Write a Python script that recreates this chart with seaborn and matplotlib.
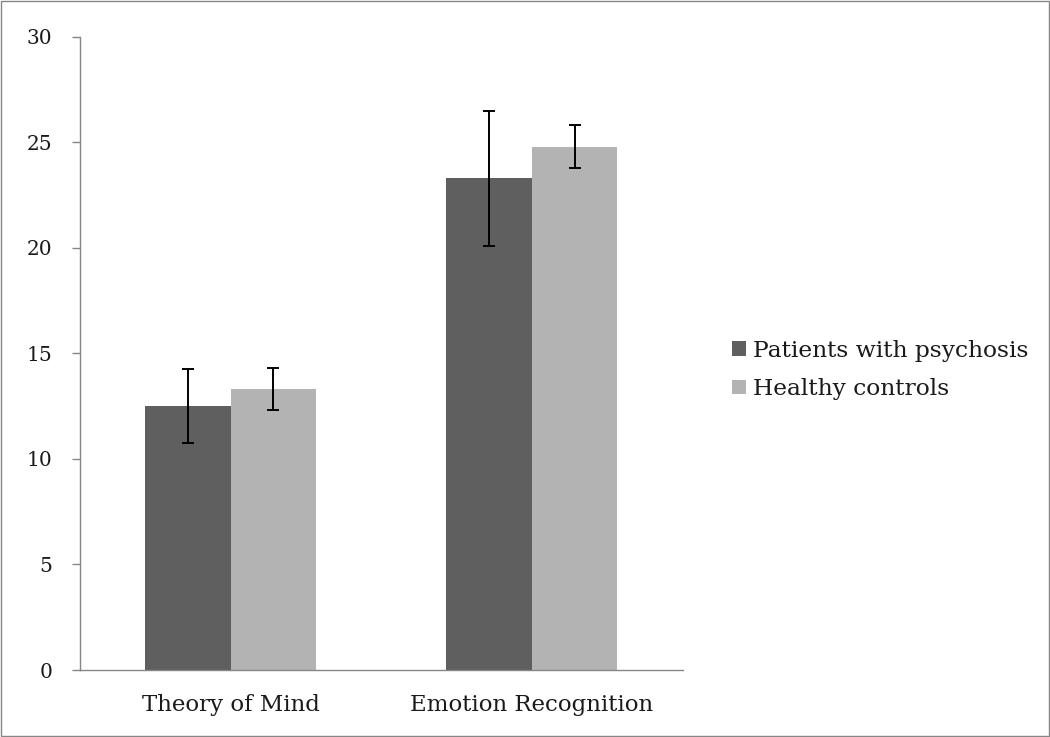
import matplotlib
matplotlib.use("Agg")
import matplotlib.pyplot as plt
import seaborn as sns
import pandas as pd
import numpy as np
from matplotlib.patches import Patch

categories = ["Theory of Mind", "Emotion Recognition"]
groups = ["Patients with psychosis", "Healthy controls"]
patients_mean = [12.5, 23.3]
patients_sd = [1.75, 3.2]
controls_mean = [13.3, 24.8]
controls_sd = [1.0, 1.0]
yticks = [0, 5, 10, 15, 20, 25, 30]

colors = ["#5f5f5f", "#b3b3b3"]

df = pd.DataFrame({
    "category": categories * 2,
    "group": [groups[0]] * 2 + [groups[1]] * 2,
    "value": patients_mean + controls_mean,
})
errs = [patients_sd, controls_sd]

sns.set_style("white")
plt.rcParams["font.family"] = ["DejaVu Serif"]
plt.rcParams["text.color"] = "#1a1a1a"

fig = plt.figure(figsize=(10.5, 7.37), dpi=100)
ax = fig.add_axes([0.0762, 0.0909, 0.650 - 0.0762, 0.95 - 0.0909])

sns.barplot(data=df, x="category", y="value", hue="group", order=categories,
            hue_order=groups, palette=colors, errorbar=None, width=0.567,
            saturation=1, legend=False, linewidth=0, edgecolor="none", ax=ax)

for cont, e in zip(ax.containers, errs):
    xs = [p.get_x() + p.get_width() / 2 for p in cont]
    ys = [p.get_height() for p in cont]
    ax.errorbar(xs, ys, yerr=e, fmt="none", ecolor="black", elinewidth=1.4,
                capsize=4, capthick=1.4)

ax.set_xlim(-0.5, 1.5)
ax.set_ylim(0, 30)
ax.set_yticks(yticks)
ax.set_yticklabels([str(t) for t in yticks], fontsize=14.5, color="#1a1a1a")
ax.set_xlabel("")
ax.set_ylabel("")
ax.set_xticks([0, 1])
ax.set_xticklabels(categories, fontsize=16.5, color="#1a1a1a")
ax.tick_params(axis="x", which="major", length=0, pad=17)
ax.set_xticks([-0.5, 0.5, 1.5], minor=True)
ax.tick_params(axis="x", which="minor", length=6, color="#868686", width=1)
ax.tick_params(axis="y", length=6, color="#868686", width=1, left=True, pad=14)

for s in ["top", "right"]:
    ax.spines[s].set_visible(False)
for s in ["left", "bottom"]:
    ax.spines[s].set_color("#868686")
    ax.spines[s].set_linewidth(1)

handles = [Patch(facecolor=c, edgecolor="none") for c in colors]
fig.legend(handles, groups, loc="center left", bbox_to_anchor=(0.677, 0.498),
           frameon=False, fontsize=16.8, handlelength=0.6, handleheight=0.6,
           handletextpad=0.3, labelspacing=0.7)

border = plt.Rectangle((0.001, 0.001), 0.998, 0.998, transform=fig.transFigure,
                       fill=False, edgecolor="#868686", linewidth=1)
fig.patches.append(border)

fig.savefig("out.png", dpi=100)
